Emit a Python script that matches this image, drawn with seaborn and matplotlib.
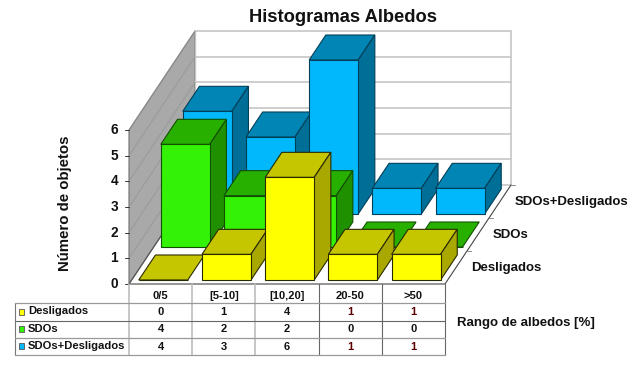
import matplotlib
matplotlib.use("Agg")
import numpy as np
import matplotlib.pyplot as plt
from matplotlib.patches import Polygon, Rectangle
import seaborn as sns

categories = ["0/5", "[5-10]", "[10,20]", "20-50", ">50"]
series_names = ["Desligados", "SDOs", "SDOs+Desligados"]
desligados = [0, 1, 4, 1, 1]
sdos = [4, 2, 2, 0, 0]
sdos_desligados = [4, 3, 6, 1, 1]
y_ticks = [0, 1, 2, 3, 4, 5, 6]

front_colors = ["#FFFF00", "#33F205", "#00B8FB"]
top_colors = ["#C6C600", "#27B000", "#0085B4"]
side_colors = ["#A8A800", "#1F9000", "#006F98"]
edge_colors = ["#2A2A00", "#124F00", "#003F58"]

sns.set_theme(style="white")
plt.rcParams["font.family"] = ["Liberation Sans", "DejaVu Sans"]

W, H = 640, 373
fig = plt.figure(figsize=(W / 100, H / 100), dpi=100)
ax = fig.add_axes([0, 0, 1, 1])

# one category = 63.2 px, one object = 25.67 px
x_px, y_px = 63.2, 154 / 6
x0_px, y0_px = 129, 284

# oblique depth of the floor, in data units
depth_x, depth_y = 66 / x_px, 99 / y_px
bar_w = 49 / x_px
bar_dx, bar_dy = 16.67 / x_px, 25 / y_px
row_dx, row_dy = depth_x / 3, depth_y / 3
pad_dx, pad_dy = 2.67 / x_px, 4 / y_px
gap = (1 - bar_w) / 2

# walls
ax.add_patch(Polygon([(0, 0), (depth_x, depth_y), (depth_x, 6 + depth_y), (0, 6)],
                     fc="#A9A9A9", ec="#6E6E6E", lw=0.8, zorder=1))
for t in y_ticks:
    ax.plot([depth_x, 5 + depth_x], [t + depth_y, t + depth_y], color="#C6C6C6", lw=1.2, zorder=1)
    ax.plot([0, depth_x], [t, t + depth_y], color="#969696", lw=0.6, zorder=1.5)
ax.plot([5 + depth_x, 5 + depth_x], [depth_y, 6 + depth_y], color="#C6C6C6", lw=1.2, zorder=1)
ax.plot([depth_x, depth_x], [depth_y, 6 + depth_y], color="#C6C6C6", lw=1, zorder=1)

# floor edges
ax.plot([0, depth_x], [0, depth_y], color="#555555", lw=0.8, zorder=2)
ax.plot([0, 5, 5 + depth_x], [0, 0, depth_y], color="#444444", lw=0.8, zorder=2)
for k in range(1, 4):
    ax.plot([5 + k * row_dx, 5 + k * row_dx + 4 / x_px], [k * row_dy, k * row_dy],
            color="#888888", lw=0.7, zorder=2)

# bars, back row first
all_values = [desligados, sdos, sdos_desligados]
for s in [2, 1, 0]:
    values = np.array(all_values[s], dtype=float)
    left = np.arange(5) + gap + pad_dx + s * row_dx
    base = pad_dy + s * row_dy
    z0 = 10 + (2 - s) * 100
    sns.barplot(x=left + bar_w / 2, y=values, native_scale=True, width=bar_w,
                color=front_colors[s], saturation=1, errorbar=None, ax=ax,
                edgecolor=edge_colors[s], linewidth=0.8, bottom=base)
    for i, bar in enumerate(ax.containers[-1]):
        bar.set_zorder(z0 + 3 * i + 2)
    for i, v in enumerate(values):
        l, r, b, t = left[i], left[i] + bar_w, base, base + v
        ax.add_patch(Polygon([(l, t), (r, t), (r + bar_dx, t + bar_dy), (l + bar_dx, t + bar_dy)],
                             fc=top_colors[s], ec=edge_colors[s], lw=0.8, zorder=z0 + 3 * i + 1))
        if v > 0:
            ax.add_patch(Polygon([(r, b), (r + bar_dx, b + bar_dy), (r + bar_dx, t + bar_dy), (r, t)],
                                 fc=side_colors[s], ec=edge_colors[s], lw=0.8, zorder=z0 + 3 * i + 1))

ax.set_xlim(-x0_px / x_px, (W - x0_px) / x_px)
ax.set_ylim(-(H - y0_px) / y_px, y0_px / y_px)
ax.set_axis_off()

# overlay in figure pixels for labels and the data table
ov = fig.add_axes([0, 0, 1, 1], facecolor="none")
ov.set_xlim(0, W)
ov.set_ylim(H, 0)
ov.set_axis_off()

bold = dict(fontweight="bold", color="#111111")
ov.text(343, 17, "Histogramas Albedos", fontsize=13.2, ha="center", va="center", **bold)
ov.text(65, 203, "Número de objetos", fontsize=10.8, rotation=90, ha="center", va="center", **bold)
ov.text(457, 323, "Rango de albedos [%]", fontsize=9.5, ha="left", va="center", **bold)
label_pos = [(471, 268), (493, 235), (515, 202)]
for name, (lx, ly) in zip(series_names, label_pos):
    ov.text(lx, ly, name, fontsize=9.5, ha="left", va="center", **bold)

for t in y_ticks:
    yy = y0_px - t * y_px
    ov.plot([125, 129], [yy, yy], color="#333333", lw=0.7)
    ov.text(118, yy, str(t), fontsize=9.8, ha="right", va="center", **bold)

# table grid
col_x = [x0_px + i * x_px for i in range(6)]
row_y = [303, 320.5, 337.5, 355]
for i, cx in enumerate(col_x):
    col = "#BDBDBD" if i < 3 else "#666666"
    ov.plot([cx, cx], [284, row_y[-1]], color=col, lw=1.2 if i < 3 else 0.8)
ov.plot([14.5, 14.5], [row_y[0], row_y[-1]], color="#777777", lw=0.8)
ov.plot([14.5, col_x[-1]], [row_y[0], row_y[0]], color="#999999", lw=0.9)
ov.plot([14.5, col_x[-1]], [row_y[1], row_y[1]], color="#666666", lw=0.8)
ov.plot([14.5, col_x[-1]], [row_y[2], row_y[2]], color="#999999", lw=0.9)
ov.plot([14.5, col_x[-1]], [row_y[3], row_y[3]], color="#999999", lw=0.9)

for i, c in enumerate(categories):
    ov.text(col_x[i] + x_px / 2, 296, c, fontsize=8, ha="center", va="center", **bold)
for s, name in enumerate(series_names):
    ry = (row_y[s] + row_y[s + 1]) / 2
    ov.add_patch(Rectangle((18.5, ry - 3), 5.5, 6, fc=front_colors[s], ec="#555555", lw=0.6))
    ov.text(28, ry - 0.5, name, fontsize=8.1, ha="left", va="center", **bold)
    for i, v in enumerate(all_values[s]):
        col = "#5A0000" if i >= 3 and v > 0 else "#111111"
        ov.text(col_x[i] + x_px / 2, ry + 0.5, str(v), fontsize=8, ha="center", va="center",
                fontweight="bold", color=col)

fig.savefig("out.png", dpi=100, facecolor="white")
